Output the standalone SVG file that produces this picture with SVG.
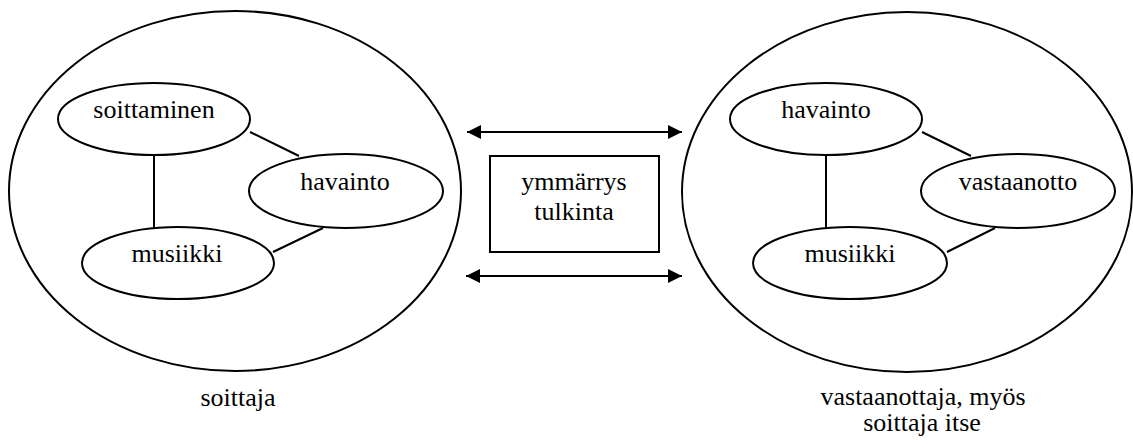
<svg xmlns="http://www.w3.org/2000/svg" width="1133" height="441" viewBox="0 0 1133 441">
<style>
.s{fill:none;stroke:#000;stroke-width:2}
.t{fill:#000;text-anchor:middle}
</style>
<defs>
<marker id="ah" viewBox="0 0 10 10" refX="10" refY="5" markerWidth="15" markerHeight="14" markerUnits="userSpaceOnUse" orient="auto-start-reverse">
<path d="M0,0 L10,5 L0,10 Z" fill="#000"/>
</marker>
</defs>
<rect width="1133" height="441" fill="#fff"/>
<g font-family="Liberation Serif, serif" font-size="26">
<g id="soittaja">
<ellipse class="s" cx="235" cy="191" rx="226" ry="180"/>
<text class="t" x="238" y="406">soittaja</text>
</g>
<g id="vastaanottaja">
<ellipse class="s" cx="907" cy="192" rx="225" ry="180"/>
<text class="t" x="923" y="405">vastaanottaja, myös</text>
<text class="t" x="922" y="431">soittaja itse</text>
</g>
<g id="l-soittaminen">
<ellipse class="s" cx="154" cy="119" rx="96" ry="36"/>
<text class="t" x="154" y="118">soittaminen</text>
</g>
<g id="l-havainto">
<ellipse class="s" cx="346" cy="191" rx="97" ry="37"/>
<text class="t" x="345" y="190">havainto</text>
</g>
<g id="l-musiikki">
<ellipse class="s" cx="178" cy="263" rx="96" ry="36"/>
<text class="t" x="177" y="262">musiikki</text>
</g>
<g id="r-havainto">
<ellipse class="s" cx="826" cy="119" rx="96" ry="36"/>
<text class="t" x="826" y="118">havainto</text>
</g>
<g id="r-vastaanotto">
<ellipse class="s" cx="1018" cy="191" rx="97" ry="37"/>
<text class="t" x="1018" y="190">vastaanotto</text>
</g>
<g id="r-musiikki">
<ellipse class="s" cx="850" cy="263" rx="97" ry="36"/>
<text class="t" x="850" y="262">musiikki</text>
</g>
<g id="ymmarrys">
<rect class="s" x="490" y="156" width="169" height="96"/>
<text class="t" x="574" y="190">ymmärrys</text>
<text class="t" x="574" y="220">tulkinta</text>
</g>
</g>
<g id="connectors">
<line class="s" x1="154" y1="155" x2="154" y2="228"/>
<line class="s" x1="250" y1="132" x2="299" y2="156"/>
<line class="s" x1="323" y1="228" x2="273" y2="252"/>
<line class="s" x1="826" y1="155" x2="826" y2="228"/>
<line class="s" x1="922" y1="132" x2="971" y2="156"/>
<line class="s" x1="995" y1="228" x2="947" y2="252"/>
<line class="s" x1="467" y1="132" x2="682" y2="132" marker-start="url(#ah)" marker-end="url(#ah)"/>
<line class="s" x1="466" y1="276" x2="682" y2="276" marker-start="url(#ah)" marker-end="url(#ah)"/>
</g>
</svg>
